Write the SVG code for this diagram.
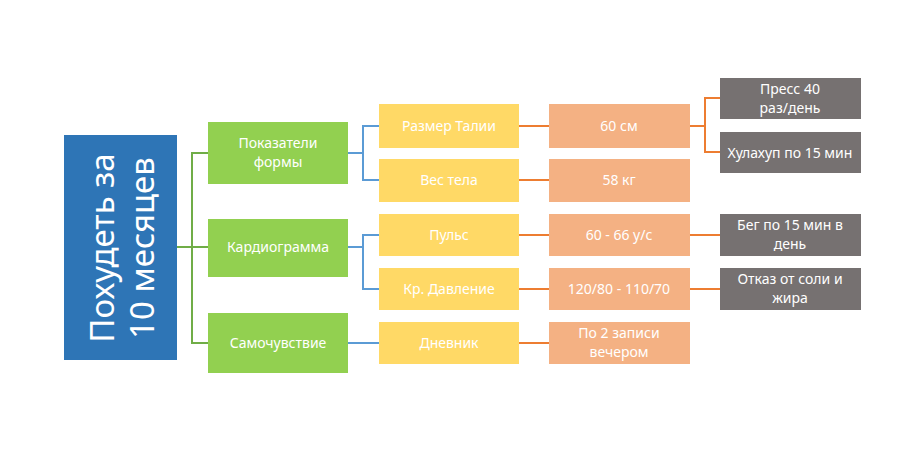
<svg xmlns="http://www.w3.org/2000/svg" width="920" height="460" viewBox="0 0 920 460">
<style>
text{font-family:"Noto Sans","Open Sans",sans-serif;font-size:14px;fill:#fff;text-anchor:middle}
.g{fill:#92d050}.y{fill:#ffd966}.o{fill:#f4b183}.d{fill:#767171}
.lg{stroke:#70ad47;stroke-width:2;fill:none}.lb{stroke:#5b9bd5;stroke-width:2;fill:none}.lo{stroke:#ed7d31;stroke-width:2;fill:none}
</style>
<rect width="920" height="460" fill="#fff"/>
<g id="connectors">
<path class="lg" d="M177 247H192M208 153H192V343H208M192 247H208"/>
<path class="lb" d="M348 153H363M379 126H363V180H379M348 247H363M379 235H363V289H379M348 343H379"/>
<path class="lo" d="M519 126H549M519 180H549M519 235H549M519 289H549M519 343H549"/>
<path class="lo" d="M690 126H705M720 98H705V152H720M690 235H720M690 289H720"/>
</g>
<g id="root"><rect x="64" y="135" width="113" height="225" fill="#2e75b6"/>
<text transform="translate(120 248) rotate(-90)" style="font-size:33px"><tspan x="0" y="-6">Похудеть за</tspan><tspan x="0" y="34">10 месяцев</tspan></text></g>
<g id="n1"><rect class="g" x="208" y="122" width="140" height="62"/><text x="278" y="148">Показатели</text><text x="278" y="167">формы</text></g>
<g id="n2"><rect class="g" x="208" y="219" width="140" height="58"/><text x="278" y="252">Кардиограмма</text></g>
<g id="n3"><rect class="g" x="208" y="313" width="140" height="60"/><text x="278" y="348">Самочувствие</text></g>
<g id="y1"><rect class="y" x="379" y="104" width="140" height="44"/><text x="449" y="131">Размер Талии</text></g>
<g id="y2"><rect class="y" x="379" y="159" width="140" height="43"/><text x="449" y="185">Вес тела</text></g>
<g id="y3"><rect class="y" x="379" y="214" width="140" height="42"/><text x="449" y="240">Пульс</text></g>
<g id="y4"><rect class="y" x="379" y="268" width="140" height="42"/><text x="449" y="294">Кр. Давление</text></g>
<g id="y5"><rect class="y" x="379" y="322" width="140" height="42"/><text x="449" y="348">Дневник</text></g>
<g id="o1"><rect class="o" x="549" y="104" width="141" height="44"/><text x="619" y="131">60 см</text></g>
<g id="o2"><rect class="o" x="549" y="159" width="141" height="43"/><text x="619" y="185">58 кг</text></g>
<g id="o3"><rect class="o" x="549" y="214" width="141" height="42"/><text x="619" y="240">60 - 66 у/с</text></g>
<g id="o4"><rect class="o" x="549" y="268" width="141" height="42"/><text x="619" y="294">120/80 - 110/70</text></g>
<g id="o5"><rect class="o" x="549" y="322" width="141" height="42"/><text x="619" y="338">По 2 записи</text><text x="619" y="357">вечером</text></g>
<g id="d1"><rect class="d" x="720" y="78" width="141" height="41"/><text x="790" y="94">Пресс 40</text><text x="790" y="113">раз/день</text></g>
<g id="d2"><rect class="d" x="720" y="132" width="141" height="41"/><text x="790" y="158">Хулахуп по 15 мин</text></g>
<g id="d3"><rect class="d" x="720" y="214" width="141" height="42"/><text x="790" y="230">Бег по 15 мин в</text><text x="790" y="249">день</text></g>
<g id="d4"><rect class="d" x="720" y="268" width="141" height="42"/><text x="790" y="284">Отказ от соли и</text><text x="790" y="303">жира</text></g>
</svg>
